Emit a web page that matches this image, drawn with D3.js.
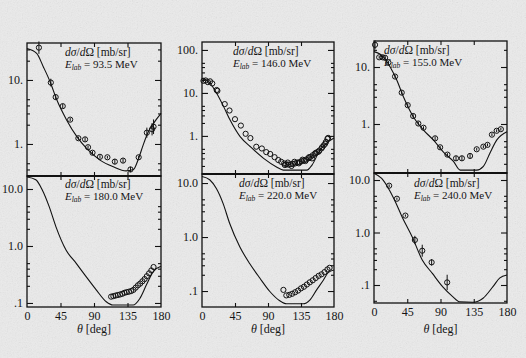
<!DOCTYPE html>
<html>
<head>
<meta charset="utf-8">
<script src="https://cdn.jsdelivr.net/npm/d3@7"></script>
<style>
  body { margin: 0; background: #e8e8e8; }
  svg { display: block; }
  .frame { fill: none; stroke: #111; stroke-width: 1.3; }
  .tick line { stroke: #111; stroke-width: 1.1; }
  .curve { fill: none; stroke: #111; stroke-width: 1.1; }
  .pt { fill: none; stroke: #111; stroke-width: 1; }
  .err { stroke: #111; stroke-width: 1; }
</style>
</head>
<body>
<script>
// ---- values (angle in deg, cross section in mb/sr) ----

// 93.5 MeV
var curveDeg1 = [0, 13, 22, 31, 40, 53, 67, 80, 98, 116, 133, 143, 150, 156, 163, 170, 180];
var curveVal1 = [31, 26, 16, 9.4, 4.9, 2.4, 1.3, 0.85, 0.56, 0.44, 0.38, 0.40, 0.60, 0.96, 1.55, 2.1, 3.0];
var dataDeg1 = [16, 32, 38.5, 48, 58, 69, 78, 82, 88, 98, 108, 118, 129, 139, 150, 161, 168, 170];
var dataVal1 = [32, 9.1, 5.4, 3.9, 2.4, 1.23, 1.18, 0.89, 0.73, 0.63, 0.62, 0.53, 0.55, 0.40, 0.62, 1.5, 1.7, 1.86];
var dataErr1 = [0.25, 0.15, 0.1, 0.08, 0.06, 0.06, 0.08, 0.06, 0.06, 0.06, 0.05, 0.1, 0.08, 0.1, 0.06, 0.2, 0.25, 0.3];

// 146.0 MeV
var curveDeg2 = [0, 11, 20, 29.5, 38.5, 52, 66, 84, 101.6, 111, 143, 150, 161, 170, 180];
var curveVal2 = [22, 17, 9.8, 4.8, 2.3, 0.96, 0.56, 0.30, 0.19, 0.16, 0.16, 0.21, 0.47, 0.68, 0.89];
var dataDeg2 = [2, 5, 8, 11, 14, 20, 21, 31, 37.5, 45, 53, 59.5, 66, 74, 81.6, 87.6, 93, 99, 104, 108,
                112, 113, 115, 117, 118, 121, 122, 124, 126, 127, 130, 132, 133, 136, 137, 139, 141, 142,
                145, 146, 148, 150, 151, 154, 155, 157, 159, 160, 163, 164, 166, 168, 169, 171, 172];
var dataVal2 = [19.1, 19.5, 17.8, 18.6, 16.6, 11.7, 11.2, 5.5, 3.9, 2.45, 1.74, 1.12, 0.89, 0.56, 0.51, 0.42, 0.38, 0.32, 0.275, 0.25,
                0.229, 0.21, 0.219, 0.24, 0.214, 0.219, 0.20, 0.224, 0.25, 0.229, 0.24, 0.23, 0.245, 0.257, 0.28, 0.269, 0.26, 0.282,
                0.302, 0.32, 0.324, 0.30, 0.355, 0.389, 0.40, 0.417, 0.43, 0.457, 0.513, 0.55, 0.603, 0.66, 0.724, 0.851, 0.90];

// 155.0 MeV
var curveDeg3 = [0, 12.7, 21.7, 30.8, 39.8, 53, 67, 80.6, 94, 107.6, 116.7, 139, 148, 157, 166, 180];
var curveVal3 = [18.6, 15.1, 10.1, 5.9, 3.0, 1.35, 0.78, 0.52, 0.32, 0.22, 0.155, 0.155, 0.18, 0.31, 0.52, 0.73];
var dataDeg3 = [1.4, 7, 11.7, 15, 19.5, 28.5, 37.5, 45.6, 53, 60, 67, 82.7, 89.5, 99.4, 111, 119, 130, 139, 148, 153.6, 159.6, 166, 171.7];
var dataVal3 = [24.5, 14.8, 14.8, 14.5, 12.0, 6.8, 3.55, 2.14, 1.38, 1.02, 0.86, 0.56, 0.39, 0.29, 0.25, 0.25, 0.275, 0.36, 0.40, 0.43, 0.65, 0.76, 0.81];
var dataErr3 = [0.2, 0.06, 0.06, 0.06, 0.06, 0.06, 0.08, 0.08, 0.08, 0.08, 0.06, 0.08, 0.06, 0.06, 0.1, 0.1, 0.1, 0.06, 0.06, 0.06, 0.06, 0.06, 0.06];

// 180.0 MeV
var curveDeg4 = [0, 11.8, 20.7, 29.8, 38.8, 52.4, 65.9, 79.4, 93, 106.5, 115.4, 142.5, 151.6, 160.6, 169.6, 180];
var curveVal4 = [16.2, 14.5, 9.5, 4.9, 2.19, 0.85, 0.50, 0.29, 0.17, 0.105, 0.092, 0.092, 0.12, 0.21, 0.355, 0.44];
var dataDeg4 = [113, 116, 119, 122, 125, 128, 131, 134, 137, 140, 143, 146, 149, 152, 155, 158, 161, 164, 167, 170];
var dataVal4 = [0.129, 0.132, 0.135, 0.138, 0.141, 0.145, 0.151, 0.155, 0.158, 0.162, 0.170, 0.186, 0.204, 0.219, 0.240, 0.263, 0.295, 0.331, 0.372, 0.427];

// 220.0 MeV
var curveDeg5 = [0, 10.5, 19.6, 28.7, 37.8, 51.5, 65.2, 78.8, 92.5, 106, 115.3, 138, 147, 156.3, 165.4, 172, 180];
var curveVal5 = [13.2, 11.5, 7.9, 4.2, 1.78, 0.66, 0.32, 0.174, 0.098, 0.066, 0.058, 0.058, 0.068, 0.105, 0.158, 0.219, 0.245];
var dataDeg5 = [111, 115, 119, 123, 127, 131, 135, 139, 143, 147, 151, 155, 159, 163, 167, 171, 174];
var dataVal5 = [0.105, 0.083, 0.085, 0.089, 0.095, 0.102, 0.112, 0.120, 0.132, 0.145, 0.158, 0.174, 0.191, 0.204, 0.224, 0.251, 0.269];

// 240.0 MeV
var curveDeg6 = [0, 10.4, 19.6, 28.7, 37.9, 51.6, 65.3, 79, 92.8, 106.5, 115.6, 134, 147.6, 161, 170, 180];
var curveVal6 = [13.5, 10.7, 6.9, 3.9, 2.0, 0.83, 0.30, 0.166, 0.093, 0.060, 0.048, 0.047, 0.056, 0.093, 0.135, 0.155];
var dataDeg6 = [20.5, 31, 42.5, 55.3, 65.3, 78, 99];
var dataVal6 = [7.8, 4.4, 2.1, 0.72, 0.45, 0.27, 0.112];
var dataErr6 = [0.06, 0.05, 0.05, 0.2, 0.3, 0.15, 0.4];

var energies = ["93.5", "146.0", "155.0", "180.0", "220.0", "240.0"];
var xTickVals = [0, 45, 90, 135, 180];
var yTicksTop = [1, 10, 100];
var yTicksBottom = [0.1, 1, 10];

// ---- layout ----
var W = 526, H = 358;
var serif = "'Liberation Serif', serif";
var panels = [
  {x0: 27,  x1: 161, yT: 43,  yB: 176, dom: [0.316, 37.8], cd: curveDeg1, cv: curveVal1, dd: dataDeg1, dv: dataVal1, de: dataErr1, top: true,  tx: 65,  ty: 56},
  {x0: 202, x1: 334, yT: 42,  yB: 174, dom: [0.13, 153],   cd: curveDeg2, cv: curveVal2, dd: dataDeg2, dv: dataVal2, de: null,     top: true,  tx: 233, ty: 55},
  {x0: 374, x1: 507, yT: 41,  yB: 173, dom: [0.138, 28.6], cd: curveDeg3, cv: curveVal3, dd: dataDeg3, dv: dataVal3, de: dataErr3, top: true,  tx: 384, ty: 54},
  {x0: 27,  x1: 161, yT: 176, yB: 307, dom: [0.085, 16.9], cd: curveDeg4, cv: curveVal4, dd: dataDeg4, dv: dataVal4, de: null,     top: false, tx: 65,  ty: 188},
  {x0: 202, x1: 334, yT: 174, yB: 307, dom: [0.0506, 14.7],cd: curveDeg5, cv: curveVal5, dd: dataDeg5, dv: dataVal5, de: null,     top: false, tx: 239, ty: 187},
  {x0: 374, x1: 507, yT: 173, yB: 303, dom: [0.0454, 13.6],cd: curveDeg6, cv: curveVal6, dd: dataDeg6, dv: dataVal6, de: dataErr6, top: false, tx: 414, ty: 187}
];

var svg = d3.select("body").append("svg")
    .attr("width", W)
    .attr("height", H)
    .attr("font-family", serif);

// scanned paper look
var defs = svg.append("defs");
var grain = defs.append("filter").attr("id", "grain");
grain.append("feTurbulence")
    .attr("type", "fractalNoise")
    .attr("baseFrequency", 0.8)
    .attr("numOctaves", 2)
    .attr("seed", 7);
grain.append("feColorMatrix").attr("type", "saturate").attr("values", 0);

svg.append("rect").attr("width", W).attr("height", H).attr("fill", "#ebebeb");
svg.append("rect").attr("width", W).attr("height", H)
    .attr("filter", "url(#grain)")
    .attr("opacity", 0.18);

panels.forEach(function(p, i) {
  var x = d3.scaleLinear().domain([0, 180]).range([p.x0, p.x1]);
  var y = d3.scaleLog().domain(p.dom).range([p.yB, p.yT]);
  var g = svg.append("g");

  var majors = (p.top ? yTicksTop : yTicksBottom).filter(function(v) {
    return v >= p.dom[0] && v <= p.dom[1];
  });
  var minors = [];
  [0.01, 0.1, 1, 10, 100].forEach(function(d) {
    [2, 3, 4, 5].forEach(function(m) {
      var v = d * m;
      if (v > p.dom[0] && v < p.dom[1]) minors.push(v);
    });
  });
  var fmt = function(v) {
    if (p.top) return v + ".";
    return v < 1 ? ".1" : v.toFixed(1);
  };

  // left axis
  g.append("g")
      .attr("transform", "translate(" + p.x0 + ",0)")
      .call(d3.axisLeft(y).tickValues(majors).tickSize(-6).tickPadding(4).tickFormat(fmt))
      .call(function(a) {
        a.select(".domain").remove();
        a.attr("font-family", serif).attr("font-size", 12);
        a.selectAll("text").attr("fill", "#151515");
      });
  g.append("g")
      .attr("transform", "translate(" + p.x0 + ",0)")
      .call(d3.axisLeft(y).tickValues(minors).tickSize(-3).tickFormat(""))
      .call(function(a) { a.select(".domain").remove(); });

  // right axis
  g.append("g")
      .attr("transform", "translate(" + p.x1 + ",0)")
      .call(d3.axisRight(y).tickValues(majors).tickSize(-6).tickFormat(""))
      .call(function(a) { a.select(".domain").remove(); });
  g.append("g")
      .attr("transform", "translate(" + p.x1 + ",0)")
      .call(d3.axisRight(y).tickValues(minors).tickSize(-3).tickFormat(""))
      .call(function(a) { a.select(".domain").remove(); });

  // x ticks on top and bottom
  g.append("g")
      .attr("transform", "translate(0," + p.yT + ")")
      .call(d3.axisTop(x).tickValues([45, 90, 135]).tickSize(-4).tickFormat(""))
      .call(function(a) { a.select(".domain").remove(); });
  var xb = g.append("g")
      .attr("transform", "translate(0," + p.yB + ")")
      .call(d3.axisBottom(x).tickValues(p.top ? [45, 90, 135] : xTickVals)
            .tickSize(-4).tickPadding(4).tickFormat(p.top ? "" : d3.format("d")))
      .call(function(a) {
        a.select(".domain").remove();
        a.attr("font-family", serif).attr("font-size", 12);
        a.selectAll("text").attr("fill", "#151515");
      });
  if (!p.top) {
    xb.selectAll(".tick").filter(function(d) { return d === 0 || d === 180; }).select("line").remove();
  }

  // frame
  g.append("rect")
      .attr("class", "frame")
      .attr("x", p.x0).attr("y", p.yT)
      .attr("width", p.x1 - p.x0).attr("height", p.yB - p.yT);
  if (!p.top) {
    g.append("line")
        .attr("x1", p.x0).attr("x2", p.x1)
        .attr("y1", p.yT).attr("y2", p.yT)
        .attr("stroke", "#111").attr("stroke-width", 2.2);
  }

  // theory curve
  var line = d3.line()
      .x(function(d) { return x(d[0]); })
      .y(function(d) { return y(d[1]); })
      .curve(d3.curveMonotoneX);
  g.append("path")
      .datum(d3.zip(p.cd, p.cv))
      .attr("class", "curve")
      .attr("d", line);

  // measured points
  var pts = d3.zip(p.dd, p.dv, p.de || p.dd.map(function() { return 0; }));
  g.selectAll(".err").data(pts.filter(function(d) { return d[2] > 0; }))
    .enter().append("line")
      .attr("class", "err")
      .attr("x1", function(d) { return x(d[0]); })
      .attr("x2", function(d) { return x(d[0]); })
      .attr("y1", function(d) { return y(d[1] * (1 + d[2])); })
      .attr("y2", function(d) { return y(d[1] / (1 + d[2])); });
  g.selectAll(".pt").data(pts)
    .enter().append("circle")
      .attr("class", "pt")
      .attr("cx", function(d) { return x(d[0]); })
      .attr("cy", function(d) { return y(d[1]); })
      .attr("r", 2.6);

  // label, two lines
  var t1 = g.append("text").attr("x", p.tx).attr("y", p.ty)
      .attr("font-size", 11.5).attr("fill", "#151515");
  t1.append("tspan").attr("font-style", "italic").text("dσ");
  t1.append("tspan").text("/");
  t1.append("tspan").attr("font-style", "italic").text("d");
  t1.append("tspan").text("Ω [mb/sr]");
  var t2 = g.append("text").attr("x", p.tx).attr("y", p.ty + 11.5)
      .attr("font-size", 11).attr("fill", "#151515");
  t2.append("tspan").attr("font-style", "italic").text("E");
  t2.append("tspan").attr("font-style", "italic").attr("dy", 2).attr("font-size", 7.5).text("lab");
  t2.append("tspan").attr("dy", -2).text(" = " + energies[i] + " MeV");

  // x axis title
  if (!p.top) {
    var t3 = g.append("text")
        .attr("x", (p.x0 + p.x1) / 2)
        .attr("y", 333)
        .attr("text-anchor", "middle")
        .attr("font-size", 12)
        .attr("fill", "#151515");
    t3.append("tspan").attr("font-style", "italic").text("θ");
    t3.append("tspan").text(" [deg]");
  }
});
</script>
</body>
</html>
